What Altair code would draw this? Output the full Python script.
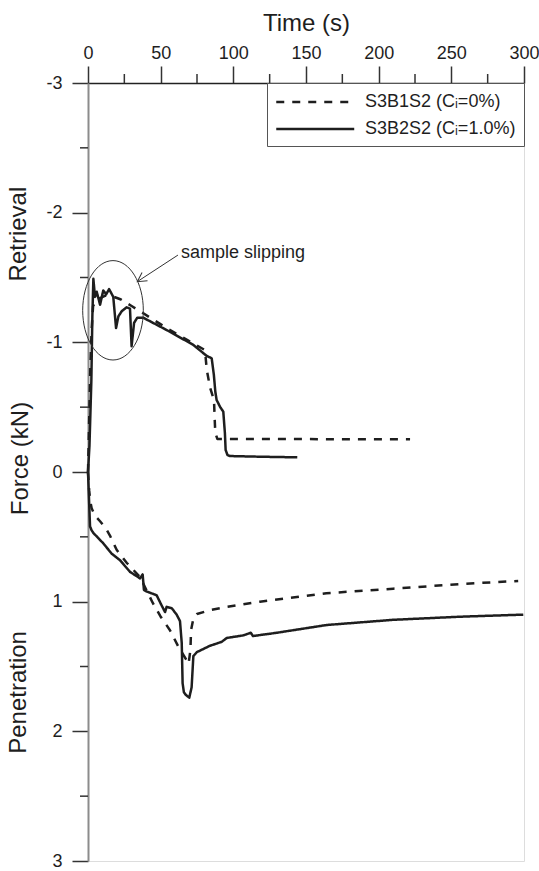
import altair as alt
import pandas as pd

# ---------------- data ----------------
series_names = ["S3B1S2 (Cᵢ=0%)", "S3B2S2 (Cᵢ=1.0%)"]

# S3B1S2 dashed, retrieval branch (negative force)
dash_up_t = [0, 0.8, 1.6, 2.5, 3.5, 6, 12, 18, 22.7, 30, 35.8, 54.1, 80.5, 81.7, 84, 86.7, 87.2, 87.6, 89, 221.6]
dash_up_f = [0, -0.4, -0.8, -1.1, -1.28, -1.33, -1.36, -1.35, -1.33, -1.28, -1.24, -1.11, -0.94, -0.79, -0.65, -0.555, -0.40, -0.30, -0.255, -0.252]

# S3B1S2 dashed, penetration branch (positive force)
dash_lo_t = [0, 0.8, 1.5, 2.5, 5, 8.3, 12, 15.1, 19.7, 26.6, 35.8, 44.4, 49.9, 56.4, 62.3, 67.8, 69.2, 70.5, 70.9,
             72.5, 75, 84, 95.4, 118.3, 164, 210, 256, 296]
dash_lo_f = [0, 0.14, 0.22, 0.28, 0.34, 0.38, 0.43, 0.49, 0.60, 0.70, 0.81, 1.006, 1.114, 1.22, 1.35, 1.45, 1.48, 1.37, 1.22,
             1.13, 1.095, 1.065, 1.04, 1.00, 0.935, 0.90, 0.864, 0.84]

# S3B2S2 solid, retrieval branch
sol_up_t = [0, 1, 2.3, 3.0, 3.7, 4.8, 6, 8.3, 10.5, 12.5, 14.5, 16, 17.4, 19.3, 20.9, 23.2, 26.6, 28.9, 30.0, 31.7,
            33.9, 38, 54.1, 72.5, 81.7, 85.1, 86.6, 87.6, 88.5, 91, 93.1, 94.2, 94.7, 96, 97.7, 118, 144]
sol_up_f = [0, -0.2, -0.7, -1.2, -1.49, -1.35, -1.39, -1.29, -1.40, -1.37, -1.41, -1.38, -1.35, -1.11, -1.20, -1.24,
            -1.27, -1.26, -0.97, -1.15, -1.19, -1.19, -1.095, -0.98, -0.895, -0.877, -0.75, -0.62, -0.555, -0.50,
            -0.465, -0.30, -0.17, -0.13, -0.123, -0.118, -0.113]

# S3B2S2 solid, penetration branch
sol_lo_t = [0, 0.5, 1.0, 1.4, 2.5, 3.7, 10.5, 16.3, 22, 28.9, 35.8, 37.6, 38.5, 40, 47.2, 50.7, 53, 54.1, 57.6, 61,
            63.3, 64.5, 65.1, 66, 67.4, 69.7, 71.3, 72.5, 74.8, 83.9, 92, 95.4, 106.9, 112, 113.5, 129.8, 164.2, 210,
            256, 299.5]
sol_lo_f = [0, 0.15, 0.3, 0.42, 0.45, 0.47, 0.55, 0.63, 0.68, 0.77, 0.82, 0.79, 0.91, 0.92, 0.95, 1.03, 1.08, 1.04,
            1.05, 1.10, 1.15, 1.32, 1.63, 1.70, 1.72, 1.74, 1.66, 1.42, 1.39, 1.34, 1.31, 1.28, 1.26, 1.24, 1.265,
            1.24, 1.18, 1.14, 1.116, 1.10]

x_major = [0, 50, 100, 150, 200, 250, 300]
x_minor = [25, 75, 125, 175, 225, 275]
y_major = [-3, -2, -1, 0, 1, 2, 3]
y_minor = [-2.5, -1.5, -0.5, 0.5, 1.5, 2.5]

# annotation anchors (data coordinates)
ellipse_t, ellipse_f = [17.2], [-1.247]
arrow_t, arrow_f = [61.9, 33.9], [-1.673, -1.468]
note_t, note_f = [64.0], [-1.69]
side_labels = ["Retrieval", "Penetration"]
side_f = [-1.835, 1.70]

# ---------------- build table ----------------
rows = []
for name, branch, ts, fs in [
    (series_names[0], "a_up", dash_up_t, dash_up_f),
    (series_names[0], "a_lo", dash_lo_t, dash_lo_f),
    (series_names[1], "b_up", sol_up_t, sol_up_f),
    (series_names[1], "b_lo", sol_lo_t, sol_lo_f),
]:
    for i, (t, f) in enumerate(zip(ts, fs)):
        rows.append({"t": t, "f": f, "series": name, "branch": branch, "idx": i})
df = pd.DataFrame(rows)

FONT = "Liberation Sans"
INK = "#1e1e1e"
TICK = "#333333"
W, H = 436, 778

xscale = alt.Scale(domain=[0, 300], nice=False, zero=False)
yscale = alt.Scale(domain=[-3, 3], reverse=True, nice=False, zero=False)

x_axis = alt.Axis(
    orient="top", values=x_major, title="Time (s)", format="d", labelFlush=False,
    ticks=True, tickSize=17, tickWidth=1.5, tickColor=TICK, tickOpacity=1,
    labelFontSize=18, labelPadding=4, labelColor=INK, labelFont=FONT,
    titleFontSize=24, titleFontWeight="normal", titleFont=FONT, titleColor=INK, titlePadding=9,
    domainColor="#222222", domainWidth=1.5, grid=False,
)
y_axis = alt.Axis(
    orient="left", values=y_major, title="Force (kN)", labelFlush=False,
    labelExpr="'' + datum.value",
    ticks=True, tickSize=16, tickWidth=1.5, tickColor=TICK, tickOpacity=1,
    labelFontSize=18, labelPadding=10, labelColor=INK, labelFont=FONT,
    titleFontSize=24, titleFontWeight="normal", titleFont=FONT, titleColor=INK,
    titleAngle=270, titleX=-68, titleY=375, titleAlign="center", titleBaseline="middle",
    domainColor="#8c8c8c", domainWidth=2, grid=False,
)

lines = alt.Chart(df).mark_line(strokeWidth=2.5, color=INK, strokeJoin="round").encode(
    x=alt.X("t:Q", scale=xscale, axis=x_axis),
    y=alt.Y("f:Q", scale=yscale, axis=y_axis),
    strokeDash=alt.StrokeDash(
        "series:N",
        scale=alt.Scale(domain=series_names, range=[[8, 8], [1, 0]]),
        legend=alt.Legend(
            title=None, orient="top-right", offset=0, padding=8,
            strokeColor="#555555", fillColor="white",
            symbolType="M -1 0 L 7 0", symbolSize=380, symbolStrokeWidth=2.5, symbolStrokeColor=INK,
            labelFontSize=18, labelFont=FONT, labelColor=INK, labelOffset=68, labelLimit=400,
            rowPadding=7,
        ),
    ),
    detail="branch:N",
    order="idx:Q",
)

# minor ticks, placed through the scales
xminor = alt.Chart(pd.DataFrame({"t": x_minor})).mark_rule(color=TICK, strokeWidth=1.5, opacity=1).encode(
    x="t:Q", y=alt.value(0), y2=alt.value(-9)
)
yminor = alt.Chart(pd.DataFrame({"f": y_minor})).mark_rule(color=TICK, strokeWidth=1.5, opacity=1).encode(
    y="f:Q", x=alt.value(0), x2=alt.value(-8)
)

ell_df = pd.DataFrame({"t": ellipse_t, "f": ellipse_f})
ellipse = alt.Chart(ell_df).mark_point(
    shape="M -0.61 0 A 0.61 1 0 1 1 0.61 0 A 0.61 1 0 1 1 -0.61 0 Z",
    size=9880, filled=False, stroke="#333333", strokeWidth=1, opacity=1,
).encode(x="t:Q", y="f:Q")

arrow = alt.Chart(pd.DataFrame({"t": [arrow_t[0]], "f": [arrow_f[0]], "t2": [arrow_t[1]], "f2": [arrow_f[1]]})).mark_rule(
    color="#333333", strokeWidth=1
).encode(x="t:Q", y="f:Q", x2="t2:Q", y2="f2:Q")

head = alt.Chart(pd.DataFrame({"t": [arrow_t[1]], "f": [arrow_f[1]]})).mark_point(
    shape="M -1 -0.55 L 0 0 L -1 0.55", size=324, angle=146.7, filled=False,
    stroke="#333333", strokeWidth=1, opacity=1,
).encode(x="t:Q", y="f:Q")

note = alt.Chart(pd.DataFrame({"t": note_t, "f": note_f})).mark_text(
    text="sample slipping", align="left", baseline="middle", fontSize=18, font=FONT, color=INK
).encode(x="t:Q", y="f:Q")

sides = alt.Chart(pd.DataFrame({"lab": side_labels, "f": side_f})).mark_text(
    angle=270, align="center", baseline="middle", fontSize=24, font=FONT, color=INK
).encode(x=alt.value(-69), y="f:Q", text="lab:N")

chart = alt.layer(lines, xminor, yminor, ellipse, arrow, head, note, sides).properties(
    width=W, height=H,
    autosize=alt.AutoSizeParams(type="none"),
    padding={"left": 88, "top": 83, "right": 15, "bottom": 10},
    background="white",
).configure_view(stroke="#333333", strokeWidth=1.5).configure(font=FONT)

chart.save("out.html", embed_options={"renderer": "svg", "actions": False})
